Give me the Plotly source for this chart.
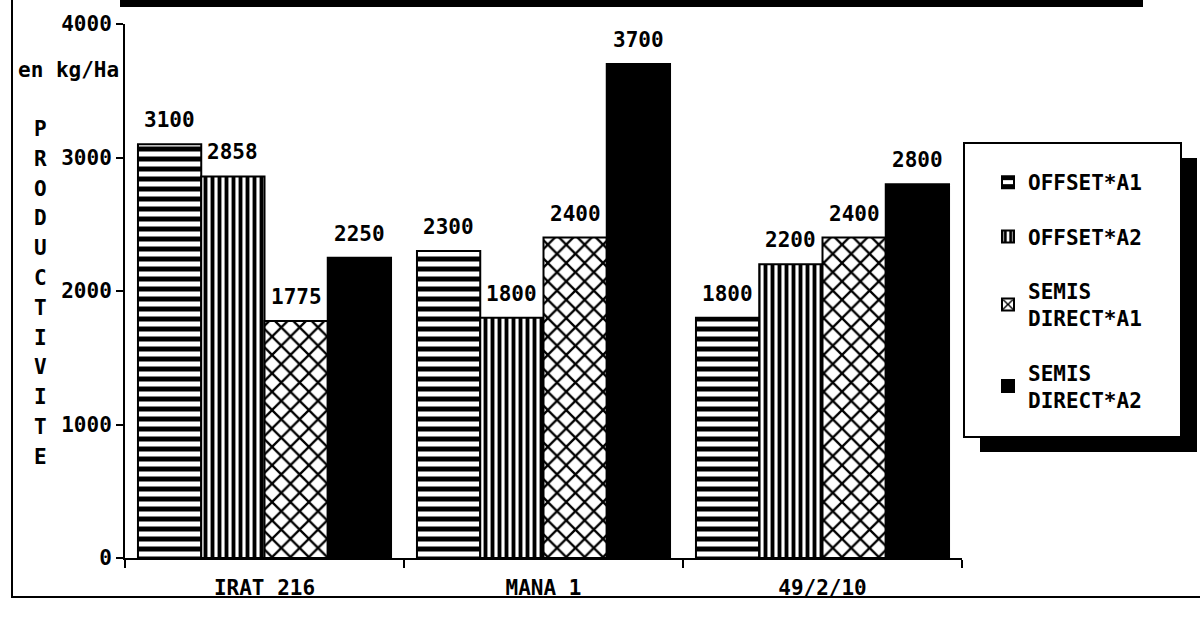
import plotly.graph_objects as go

# Rice varieties on the x axis
varieties = ["IRAT 216", "MANA 1", "49/2/10"]

# Yields (kg/Ha) for each tillage x fertilisation treatment
offset_a1 = [3100, 2300, 1800]
offset_a2 = [2858, 1800, 2200]
semis_direct_a1 = [1775, 2400, 2400]
semis_direct_a2 = [2250, 3700, 2800]

series_names = ["OFFSET*A1", "OFFSET*A2", "SEMIS<br>DIRECT*A1", "SEMIS<br>DIRECT*A2"]
series_values = [offset_a1, offset_a2, semis_direct_a1, semis_direct_a2]

y_ticks = [0, 1000, 2000, 3000, 4000]
y_title_letters = list("PRODUCTIVITE")
unit_label = "en kg/Ha"

W, H = 1200, 628
FONT = "DejaVu Sans Mono"
BOLD = dict(family=FONT, size=21, color="black", weight="bold")

# plot area in pixels
X_LEFT, X_RIGHT = 125, 962
Y_BOTTOM, Y_TOP = 558, 24
BARGAP = 0.093


def px(x):
    return x / W


def py(y):
    return 1 - y / H


patterns = [
    dict(shape="-", size=10, solidity=0.5, fgcolor="black", bgcolor="white", fgopacity=1),
    dict(shape="|", size=7, solidity=0.55, fgcolor="black", bgcolor="white", fgopacity=1),
    dict(shape="x", size=13, solidity=0.32, fgcolor="black", bgcolor="white", fgopacity=1),
    None,
]

fig = go.Figure()
for name, vals, pat in zip(series_names, series_values, patterns):
    marker = dict(color="white" if pat else "black",
                  line=dict(color="black", width=2))
    if pat:
        marker["pattern"] = pat
    fig.add_trace(go.Bar(x=varieties, y=vals, name=name, legendgroup=name, marker=marker))

# value labels above each bar
category_px = (X_RIGHT - X_LEFT) / len(varieties)
bar_px = category_px * (1 - BARGAP) / len(series_values)
annotations = []
for i, vals in enumerate(series_values):
    shift = (i - (len(series_values) - 1) / 2) * bar_px
    for cat, v in zip(varieties, vals):
        annotations.append(dict(
            x=cat, y=v, xref="x", yref="y", text=str(v), showarrow=False,
            xanchor="center", yanchor="bottom", xshift=shift, yshift=10,
            font=BOLD))

annotations.append(dict(
    text=unit_label, x=px(68), y=py(70), xref="paper", yref="paper",
    xanchor="center", yanchor="middle", showarrow=False, font=BOLD))
for i, letter in enumerate(y_title_letters):
    annotations.append(dict(
        text=letter, x=px(40), y=py(129 + 29.8 * i), xref="paper", yref="paper",
        xanchor="center", yanchor="middle", borderpad=0,
        showarrow=False, font=dict(family=FONT, size=21, color="black", weight="bold")))

shapes = [
    # frame
    dict(type="rect", xref="paper", yref="paper", x0=px(120), x1=px(1143),
         y0=py(0), y1=py(7), fillcolor="black", line=dict(width=0)),
    dict(type="line", xref="paper", yref="paper", x0=px(12), x1=px(12),
         y0=py(0), y1=py(598), line=dict(color="black", width=2)),
    dict(type="line", xref="paper", yref="paper", x0=px(12), x1=px(1200),
         y0=py(597), y1=py(597), line=dict(color="black", width=2)),
    # legend box with drop shadow
    dict(type="rect", xref="paper", yref="paper", x0=px(980), x1=px(1197),
         y0=py(158), y1=py(452), fillcolor="black", line=dict(width=0)),
    dict(type="rect", xref="paper", yref="paper", x0=px(964), x1=px(1181),
         y0=py(143), y1=py(437), fillcolor="white", line=dict(color="black", width=2)),
]

fig.update_layout(
    width=W, height=H,
    margin=dict(l=0, r=0, t=0, b=0, autoexpand=False),
    paper_bgcolor="white", plot_bgcolor="white",
    barmode="group", bargap=BARGAP, bargroupgap=0,
    font=dict(family=FONT, color="black"),
    xaxis=dict(
        domain=[px(X_LEFT), px(X_RIGHT)], type="category", automargin=False,
        showline=True, linecolor="black", linewidth=2,
        ticks="outside", tickson="boundaries", ticklen=8, tickwidth=2, tickcolor="black",
        tickfont=BOLD, ticklabelstandoff=10, showgrid=False,
    ),
    yaxis=dict(
        domain=[py(Y_BOTTOM), py(Y_TOP)], range=[0, 4000], automargin=False,
        tickvals=y_ticks, ticktext=[str(t) for t in y_ticks],
        showline=True, linecolor="black", linewidth=2,
        ticks="outside", ticklen=7, tickwidth=2, tickcolor="black",
        tickfont=BOLD, showgrid=False, zeroline=False,
    ),
    # inner half of the cross-shaped tick marks
    yaxis2=dict(
        domain=[py(Y_BOTTOM), py(Y_TOP)], range=[0, 4000], overlaying="y", anchor="x",
        side="left", automargin=False, tickvals=y_ticks, showticklabels=False,
        ticks="inside", ticklen=5, tickwidth=2, tickcolor="black",
        showline=False, showgrid=False, zeroline=False,
    ),
    showlegend=True,
    legend=dict(
        x=px(988), y=py(162), xanchor="left", yanchor="top",
        bgcolor="rgba(0,0,0,0)", borderwidth=0,
        font=BOLD, tracegroupgap=24, traceorder="grouped",
    ),
    annotations=annotations,
    shapes=shapes,
)

fig.write_html("out.html")
